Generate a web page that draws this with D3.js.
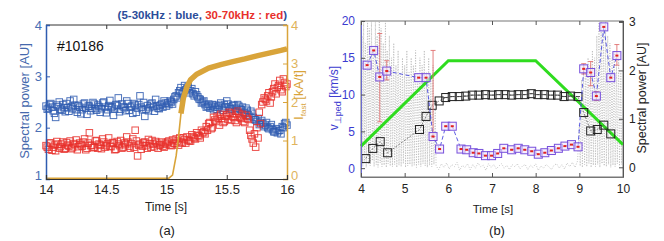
<!DOCTYPE html>
<html>
<head>
<meta charset="utf-8">
<script src="https://cdn.jsdelivr.net/npm/d3@7"></script>
<style>
  body { margin: 0; background: #fff; }
  svg { display: block; }
  text { font-family: "Liberation Sans", Arial, sans-serif; }
  .narrow { font-family: "Liberation Sans Narrow", "Liberation Sans", Arial, sans-serif; }
</style>
</head>
<body>
<svg id="chart" width="664" height="241"></svg>
<script>
"use strict";

// ---- panel (a) data ----
// two interleaved sample sets per band, 0.02 s apart each (offset 0.01 s)
var timeStartA = 14, timeStepA = 0.02;
var bluePower = [
  2.42, 2.38, 2.47, 2.33, 2.20, 2.41, 2.36, 2.45, 2.31, 2.39,
  2.52, 2.37, 2.44, 2.30, 2.40, 2.35, 2.48, 2.26, 2.42, 2.38,
  2.46, 2.34, 2.41, 2.37, 2.50, 2.29, 2.43, 2.39, 2.24, 2.45,
  2.58, 2.36, 2.41, 2.33, 2.47, 2.40, 2.28, 2.44, 2.38, 2.62,
  2.35, 2.22, 2.43, 2.39, 2.48, 2.32, 2.42, 2.37, 2.46, 2.52,
  2.42, 2.45, 2.50, 2.55, 2.62, 2.68, 2.78, 2.70, 2.74, 2.80,
  2.72, 2.66, 2.70, 2.60, 2.55, 2.50, 2.45, 2.42, 2.38, 2.45,
  2.40, 2.36, 2.43, 2.38, 2.45, 2.52, 2.40, 2.36, 2.44, 2.38,
  2.42, 2.35, 2.30, 2.38, 2.25, 2.32, 2.20, 2.15, 2.18, 2.10,
  2.08, 2.05, 2.00, 2.02, 1.96, 1.92, 1.90, 1.95, 2.02, 2.08,
  2.05
];
var bluePower2 = [
  2.36, 2.45, 2.40, 2.28, 2.44, 2.50, 2.34, 2.39, 2.47, 2.32,
  2.41, 2.55, 2.35, 2.43, 2.27, 2.46, 2.38, 2.42, 2.33, 2.49,
  2.37, 2.44, 2.30, 2.48, 2.40, 2.35, 2.53, 2.41, 2.36, 2.43,
  2.31, 2.46, 2.39, 2.52, 2.34, 2.42, 2.47, 2.30, 2.45, 2.40,
  2.49, 2.36, 2.33, 2.46, 2.41, 2.55, 2.38, 2.44, 2.40, 2.48,
  2.48, 2.52, 2.46, 2.60, 2.58, 2.72, 2.66, 2.82, 2.76, 2.68,
  2.76, 2.62, 2.64, 2.56, 2.48, 2.52, 2.40, 2.46, 2.42, 2.35,
  2.44, 2.40, 2.48, 2.34, 2.41, 2.46, 2.37, 2.43, 2.32, 2.45,
  2.36, 2.40, 2.28, 2.34, 2.22, 2.28, 2.16, 2.12, 2.06, 2.14,
  2.02, 2.10, 1.98, 2.06, 1.92, 1.98, 1.94, 1.88, 2.00, 2.10
];
var redPower = [
  1.65, 1.58, 1.70, 1.62, 1.55, 1.68, 1.63, 1.72, 1.60, 1.66,
  1.74, 1.61, 1.67, 1.57, 1.70, 1.64, 1.78, 1.60, 1.90, 1.66,
  1.62, 1.75, 1.68, 1.59, 1.72, 1.65, 1.80, 1.63, 1.70, 1.58,
  1.68, 1.75, 1.62, 1.67, 1.72, 1.60, 1.78, 1.95, 1.45, 1.68,
  1.64, 1.72, 1.60, 1.69, 1.75, 1.63, 1.70, 1.66, 1.72, 1.62,
  1.68, 1.74, 1.65, 1.70, 1.78, 1.66, 1.72, 1.80, 1.70, 1.76,
  1.74, 1.82, 1.78, 1.85, 1.80, 1.90, 1.88, 1.95, 2.10, 2.00,
  2.15, 2.22, 2.05, 2.18, 2.12, 2.25, 2.30, 2.15, 2.20, 2.10,
  2.28, 2.18, 2.12, 2.24, 2.16, 1.85, 1.70, 1.62, 1.80, 2.08,
  2.50, 2.55, 2.62, 2.48, 2.70, 2.85, 2.78, 2.92, 2.70, 2.88,
  2.85
];
var redPower2 = [
  1.62, 1.70, 1.56, 1.66, 1.73, 1.60, 1.68, 1.58, 1.71, 1.64,
  1.59, 1.69, 1.76, 1.63, 1.67, 1.72, 1.57, 1.70, 1.65, 1.61,
  1.74, 1.60, 1.66, 1.78, 1.62, 1.69, 1.64, 1.71, 1.57, 1.73,
  1.65, 1.60, 1.70, 1.82, 1.64, 1.69, 1.62, 1.74, 1.66, 1.58,
  1.71, 1.65, 1.77, 1.62, 1.68, 1.73, 1.60, 1.67, 1.64, 1.70,
  1.72, 1.66, 1.76, 1.69, 1.74, 1.80, 1.70, 1.77, 1.82, 1.74,
  1.86, 1.80, 1.90, 1.84, 1.95, 1.92, 2.02, 2.08, 1.98, 2.20,
  2.12, 2.18, 2.26, 2.10, 2.22, 2.16, 2.28, 2.22, 2.14, 2.32,
  2.20, 2.26, 2.10, 2.18, 1.95, 1.78, 1.88, 2.00, 2.30, 2.45,
  2.58, 2.52, 2.68, 2.60, 2.76, 2.66, 2.82, 2.74, 2.95, 2.80
];
var ifastT = [14, 15.02, 15.05, 15.08, 15.10, 15.12, 15.14, 15.17, 15.20, 15.25, 15.35, 15.45, 15.55, 15.65, 15.75, 15.85, 15.95, 16];
var ifastV = [0.02, 0.02, 0.1, 0.6, 1.1, 1.7, 2.1, 2.4, 2.58, 2.72, 2.88, 2.97, 3.05, 3.12, 3.2, 3.27, 3.34, 3.38];
var ticksA = [14, 14.5, 15, 15.5, 16];

// ---- panel (b) data ----
var vpedT = [4.14, 4.29, 4.43, 4.59, 5.32, 5.49, 5.65, 5.80, 5.94, 6.09,
  6.29, 6.42, 6.57, 6.70, 6.85, 6.99, 7.13, 7.27, 7.45, 7.60,
  7.75, 7.91, 8.06, 8.21, 8.36, 8.52, 8.67, 8.82, 8.97,
  9.10, 9.26, 9.39, 9.56, 9.72, 9.86];
var vpedV = [14.0, 16.0, 12.4, 13.2, 12.3, 12.3, 4.3, 2.6, 5.7, 5.7,
  2.6, 2.5, 2.1, 2.0, 1.7, 1.7, 2.0, 2.7, 2.5, 2.7,
  2.5, 2.3, 1.9, 2.1, 2.4, 2.7, 3.0, 3.2, 2.9,
  13.5, 13.0, 9.8, 19.2, 12.3, 15.3];
// error bars: [time, low, high]
var vpedErr = [[4.43, 6.3, 18.3], [4.59, 12.0, 14.6], [5.65, 4.3, 16.0],
  [9.10, 12.8, 14.2], [9.26, 11.2, 14.5], [9.39, 9.2, 10.4], [9.86, 14.0, 16.8]];
var specT = [4.11, 4.27, 4.44, 4.61, 5.34, 5.49, 5.63, 5.79, 5.94, 6.09,
  6.25, 6.40, 6.55, 6.70, 6.85, 7.00, 7.15, 7.30, 7.45, 7.60,
  7.75, 7.90, 8.05, 8.20, 8.35, 8.50, 8.65, 8.80, 8.97,
  9.10, 9.26, 9.41, 9.56, 9.72];
var specV = [0.18, 0.39, 0.53, 0.30, 0.78, 1.05, 1.28, 1.37, 1.44, 1.46,
  1.46, 1.47, 1.49, 1.49, 1.50, 1.49, 1.50, 1.50, 1.49, 1.50,
  1.50, 1.52, 1.50, 1.50, 1.49, 1.49, 1.46, 1.47, 1.46,
  1.13, 0.75, 0.78, 0.87, 0.69];
var greenT = [4, 6, 8, 10];
var greenV = [3.0, 14.6, 14.6, 3.2];
// grey fluctuation signal (left axis units)
var grayTrace = [
  [4.00,0.5],[4.02,18],[4.04,0.2],[4.06,20],[4.08,0.8],[4.10,17],[4.12,0.1],[4.15,20],[4.17,0.6],[4.19,19],
  [4.21,0.3],[4.24,20],[4.26,1.0],[4.28,16],[4.30,0.2],[4.33,20],[4.35,0.5],[4.37,18],[4.39,0.1],[4.42,20],
  [4.44,0.7],[4.46,19],[4.48,0.2],[4.51,17],[4.53,0.4],[4.56,20],[4.58,0.1],[4.60,16],[4.62,0.6],[4.65,18],
  [4.67,0.3],[4.70,15],[4.72,0.2],[4.75,17],[4.77,0.5],[4.80,14],[4.82,0.1],[4.85,16],[4.87,0.4],[4.90,13],
  [4.92,0.2],[4.95,15],[4.97,0.6],[5.00,14],[5.02,0.1],[5.05,16],[5.07,0.3],[5.10,13],[5.12,0.5],[5.15,15],
  [5.17,0.2],[5.20,14],[5.22,0.4],[5.25,16],[5.27,0.1],[5.30,13],[5.32,0.5],[5.35,15],[5.37,0.2],[5.40,14],
  [5.42,0.6],[5.45,16],[5.47,0.3],[5.50,13],[5.52,0.1],[5.55,15],[5.57,0.4],[5.60,12],[5.62,0.2],[5.65,14],
  [5.67,0.5],[5.70,8],
  [5.72,0.3],[5.78,-0.2],[5.84,0.6],[5.90,0.1],[5.96,0.7],[6.02,-0.1],[6.08,0.5],[6.14,0.2],[6.20,0.8],[6.26,-0.3],
  [6.32,0.4],[6.38,0.1],[6.44,0.6],[6.50,-0.2],[6.56,0.5],[6.62,0.0],[6.68,0.7],[6.74,0.2],[6.80,0.4],[6.86,-0.3],
  [6.92,0.6],[6.98,0.1],[7.04,0.5],[7.10,-0.1],[7.16,0.3],[7.22,0.6],[7.28,0.0],[7.34,0.4],[7.40,-0.2],[7.46,0.5],
  [7.52,0.2],[7.58,0.6],[7.64,-0.1],[7.70,0.3],[7.76,0.5],[7.82,-0.2],[7.88,0.4],[7.94,0.1],[8.00,0.6],[8.06,-0.3],
  [8.12,0.3],[8.18,0.0],[8.24,0.5],[8.30,0.2],[8.36,-0.2],[8.42,0.4],[8.48,0.6],[8.54,0.0],[8.60,0.5],[8.66,-0.1],
  [8.72,0.7],[8.78,0.2],[8.84,0.8],[8.90,0.1],[8.96,1.0],
  [9.00,6],[9.02,0.3],[9.05,12],[9.07,0.1],[9.10,14],[9.12,0.5],[9.15,13],[9.17,0.2],[9.20,15],[9.22,0.6],
  [9.25,14],[9.27,0.1],[9.30,16],[9.32,0.4],[9.35,15],[9.37,0.2],[9.40,18],[9.42,0.5],[9.45,20],[9.47,0.1],
  [9.50,20],[9.52,0.6],[9.55,19],[9.57,0.3],[9.60,20],[9.62,0.2],[9.65,18],[9.67,0.5],[9.70,17],[9.72,0.1],
  [9.75,15],[9.77,0.4],[9.80,16],[9.82,0.2],[9.85,14],[9.87,0.6],[9.90,15],[9.92,0.3],[9.95,13],[9.97,0.5],[10.0,12]
];
var ticksB = [4, 5, 6, 7, 8, 9, 10];

var svg = d3.select("#chart");
var fmt = d3.format("");

// =================== panel (a) ===================
var blueCol = "#2f5cb0", redCol = "#e8302c", goldCol = "#d9a43a";
var xA = d3.scaleLinear().domain([14, 16]).range([46, 287]);
var yA = d3.scaleLinear().domain([1, 4]).range([179, 25]);
var yA2 = d3.scaleLinear().domain([0, 4]).range([179, 25]);
var gA = svg.append("g");

function seriesPts(vals, offset) {
  return vals.map(function(v, i){ return {t: timeStartA + offset + i*timeStepA, v: v}; });
}

// box top + inward ticks
gA.append("line").attr("x1", 46).attr("x2", 287).attr("y1", 25).attr("y2", 25).attr("stroke", "#333");
gA.append("g").attr("transform", "translate(0,25)")
  .call(d3.axisTop(xA).tickValues(ticksA).tickSize(-4).tickFormat(""))
  .call(function(g){ g.select(".domain").remove(); g.selectAll("line").attr("stroke", "#333"); });

var squares = 6.5;
[{vals: bluePower, off: 0, col: blueCol}, {vals: bluePower2, off: 0.01, col: blueCol},
 {vals: redPower, off: 0, col: redCol}, {vals: redPower2, off: 0.01, col: redCol}].forEach(function(s){
  gA.append("g").selectAll("rect").data(seriesPts(s.vals, s.off)).enter().append("rect")
    .attr("x", function(d){ return xA(d.t) - squares/2; })
    .attr("y", function(d){ return yA(d.v) - squares/2; })
    .attr("width", squares).attr("height", squares)
    .attr("fill", "none").attr("stroke", s.col).attr("stroke-width", 1).attr("opacity", 0.85);
});

// Ifast trace
var ifast = ifastT.map(function(t, i){ return {t: t, v: ifastV[i]}; });
var lineA = d3.line().x(function(d){ return xA(d.t); }).y(function(d){ return yA2(d.v); });
gA.append("path").datum(ifast).attr("d", lineA)
  .attr("fill", "none").attr("stroke", goldCol).attr("stroke-width", 1.6);
gA.append("path").datum(ifast.filter(function(d){ return d.t >= 15.12; })).attr("d", lineA)
  .attr("fill", "none").attr("stroke", goldCol).attr("stroke-width", 5.5);

// axes
var axL = gA.append("g").attr("transform", "translate(46,0)")
  .call(d3.axisLeft(yA).tickValues([1, 2, 3, 4]).tickSize(-4).tickPadding(4).tickFormat(fmt));
axL.select(".domain").attr("stroke", blueCol).attr("stroke-width", 1.5);
axL.selectAll("line").attr("stroke", blueCol);
axL.selectAll("text").attr("class", "narrow").attr("fill", "#4a6fb5").style("font-size", "13px");

var axR = gA.append("g").attr("transform", "translate(287,0)")
  .call(d3.axisRight(yA2).tickValues([0, 1, 2, 3, 4]).tickSize(-4).tickPadding(4).tickFormat(fmt));
axR.select(".domain").attr("stroke", goldCol).attr("stroke-width", 1.5);
axR.selectAll("line").attr("stroke", goldCol);
axR.selectAll("text").attr("class", "narrow").attr("fill", "#e0b45c").style("font-size", "13px");
// keep the bottom corner labels clear of the time ticks
axL.selectAll(".tick text").filter(function(d){ return d === 1; }).attr("dy", "0em");
axR.selectAll(".tick text").filter(function(d){ return d === 0; }).attr("dy", "0em");

var axB = gA.append("g").attr("transform", "translate(0,179)")
  .call(d3.axisBottom(xA).tickValues(ticksA).tickSize(-4).tickPadding(6).tickFormat(fmt));
axB.select(".domain").attr("stroke", "#333").attr("stroke-width", 1.2);
axB.selectAll("line").attr("stroke", "#333");
axB.selectAll("text").attr("class", "narrow").attr("fill", "#222").style("font-size", "13px");

gA.append("text").attr("class", "narrow").attr("x", 166).attr("y", 211)
  .attr("text-anchor", "middle").style("font-size", "12px").attr("fill", "#222").text("Time [s]");
gA.append("text").attr("x", 167).attr("y", 235)
  .attr("text-anchor", "middle").style("font-size", "13px").attr("fill", "#222").text("(a)");
gA.append("text").attr("x", 57).attr("y", 51).style("font-size", "14px").attr("fill", "#111").text("#10186");

gA.append("text").attr("class", "narrow").attr("transform", "translate(29,101) rotate(-90)")
  .attr("text-anchor", "middle").style("font-size", "13px").attr("fill", "#4569ad").text("Spectral power [AU]");
var lblI = gA.append("text").attr("class", "narrow").attr("transform", "translate(303,95) rotate(-90)")
  .attr("text-anchor", "middle").style("font-size", "13px").attr("fill", goldCol);
lblI.append("tspan").text("I");
lblI.append("tspan").attr("dy", 3).style("font-size", "8px").text("fast");
lblI.append("tspan").attr("dy", -3).text(" [kA/t]");

var title = gA.append("text").attr("class", "narrow").attr("x", 287).attr("y", 19)
  .attr("text-anchor", "end").style("font-size", "11.5px").style("font-weight", "bold");
title.append("tspan").attr("fill", "#2b4d9a").text("(5-30kHz : blue, ");
title.append("tspan").attr("fill", redCol).text("30-70kHz : red");
title.append("tspan").attr("fill", "#2b4d9a").text(")");

// =================== panel (b) ===================
var xB = d3.scaleLinear().domain([4, 10]).range([361, 623]);
var yB = d3.scaleLinear().domain([-1.2, 20]).range([177, 21]);
var yB2 = d3.scaleLinear().domain([-0.2, 3.02]).range([177, 21]);
var gB = svg.append("g");

gB.append("rect").attr("x", 361).attr("y", 21).attr("width", 262).attr("height", 156)
  .attr("fill", "none").attr("stroke", "#777").attr("stroke-width", 1);

// grey fluctuation signal
gB.append("path").datum(grayTrace)
  .attr("d", d3.line().x(function(d){ return xB(d[0]); }).y(function(d){ return yB(d[1]); }))
  .attr("fill", "none").attr("stroke", "#b4b4b4").attr("stroke-width", 0.8)
  .attr("stroke-dasharray", "1,1.6");

// green trace
gB.append("path").datum(greenT.map(function(t, i){ return [t, greenV[i]]; }))
  .attr("d", d3.line().x(function(d){ return xB(d[0]); }).y(function(d){ return yB(d[1]); }))
  .attr("fill", "none").attr("stroke", "#2fdc1f").attr("stroke-width", 3);

// spectral power (black squares)
var spec = specT.map(function(t, i){ return {t: t, v: specV[i]}; });
gB.append("path").datum(spec)
  .attr("d", d3.line().x(function(d){ return xB(d.t); }).y(function(d){ return yB2(d.v); }))
  .attr("fill", "none").attr("stroke", "#555").attr("stroke-width", 0.7).attr("stroke-dasharray", "2,1.5");
var sq = 8;
gB.append("g").selectAll("rect").data(spec).enter().append("rect")
  .attr("x", function(d){ return xB(d.t) - sq/2; })
  .attr("y", function(d){ return yB2(d.v) - sq/2; })
  .attr("width", sq).attr("height", sq)
  .attr("fill", "none").attr("stroke", "#222").attr("stroke-width", 1);
gB.append("g").selectAll("line").data(spec.filter(function(d){ return d.t > 5.9 && d.t < 9; })).enter().append("line")
  .attr("x1", function(d){ return xB(d.t) - 2; }).attr("x2", function(d){ return xB(d.t) + 2; })
  .attr("y1", function(d){ return yB2(d.v); }).attr("y2", function(d){ return yB2(d.v); })
  .attr("stroke", "#222").attr("stroke-width", 0.8);

// v_perp,ped (purple squares, red errorbars)
var vped = vpedT.map(function(t, i){ return {t: t, v: vpedV[i]}; });
gB.append("path").datum(vped)
  .attr("d", d3.line().x(function(d){ return xB(d.t); }).y(function(d){ return yB(d.v); }))
  .attr("fill", "none").attr("stroke", "#4a4ae0").attr("stroke-width", 0.9).attr("stroke-dasharray", "4,2.5");
var errG = gB.append("g").attr("stroke", "#e07070").attr("stroke-width", 0.9);
vpedErr.forEach(function(e){
  var x = xB(e[0]);
  errG.append("line").attr("x1", x).attr("x2", x).attr("y1", yB(e[1])).attr("y2", yB(e[2]));
  errG.append("line").attr("x1", x - 2.5).attr("x2", x + 2.5).attr("y1", yB(e[1])).attr("y2", yB(e[1]));
  errG.append("line").attr("x1", x - 2.5).attr("x2", x + 2.5).attr("y1", yB(e[2])).attr("y2", yB(e[2]));
});
gB.append("g").selectAll("rect").data(vped).enter().append("rect")
  .attr("x", function(d){ return xB(d.t) - sq/2; })
  .attr("y", function(d){ return yB(d.v) - sq/2; })
  .attr("width", sq).attr("height", sq)
  .attr("fill", "#f2e6fa").attr("fill-opacity", 0.6).attr("stroke", "#7750dc").attr("stroke-width", 1);
gB.append("g").selectAll("rect").data(vped).enter().append("rect")
  .attr("x", function(d){ return xB(d.t) - 1.5; })
  .attr("y", function(d){ return yB(d.v) - 1; })
  .attr("width", 3).attr("height", 2).attr("fill", "#e02020");

// axes
var bL = gB.append("g").attr("transform", "translate(361,0)")
  .call(d3.axisLeft(yB).tickValues([0, 5, 10, 15, 20]).tickSize(-4).tickPadding(6).tickFormat(fmt));
bL.select(".domain").attr("stroke", "#6a6ad0");
bL.selectAll("line").attr("stroke", "#555");
bL.selectAll("text").attr("fill", "#3b3bd0").style("font-size", "12px");

var bR = gB.append("g").attr("transform", "translate(623,0)")
  .call(d3.axisRight(yB2).tickValues([0, 1, 2, 3]).tickSize(-4).tickPadding(6).tickFormat(fmt));
bR.select(".domain").attr("stroke", "#555");
bR.selectAll("line").attr("stroke", "#555");
bR.selectAll("text").attr("fill", "#222").style("font-size", "12px");

var bB = gB.append("g").attr("transform", "translate(0,177)")
  .call(d3.axisBottom(xB).tickValues(ticksB).tickSize(-4).tickPadding(7).tickFormat(fmt));
bB.select(".domain").attr("stroke", "#777");
bB.selectAll("line").attr("stroke", "#555");
bB.selectAll("text").attr("fill", "#222").style("font-size", "12px");
gB.append("g").attr("transform", "translate(0,21)")
  .call(d3.axisTop(xB).tickValues(ticksB).tickSize(-4).tickFormat(""))
  .call(function(g){ g.select(".domain").remove(); g.selectAll("line").attr("stroke", "#555"); });

gB.append("text").attr("x", 493).attr("y", 213).attr("text-anchor", "middle")
  .style("font-size", "11.5px").attr("fill", "#222").text("Time [s]");
gB.append("text").attr("x", 497).attr("y", 235).attr("text-anchor", "middle")
  .style("font-size", "13px").attr("fill", "#222").text("(b)");
gB.append("text").attr("transform", "translate(646,98) rotate(-90)").attr("text-anchor", "middle")
  .style("font-size", "12.5px").attr("fill", "#222").text("Spectral power [AU]");
var lblV = gB.append("text").attr("transform", "translate(338,98) rotate(-90)").attr("text-anchor", "middle")
  .style("font-size", "12px").attr("fill", "#3b3bd0");
lblV.append("tspan").text("v");
lblV.append("tspan").attr("dy", 3).style("font-size", "9px").text("\u22a5ped");
lblV.append("tspan").attr("dy", -3).text(" [km/s]");
</script>
</body>
</html>
